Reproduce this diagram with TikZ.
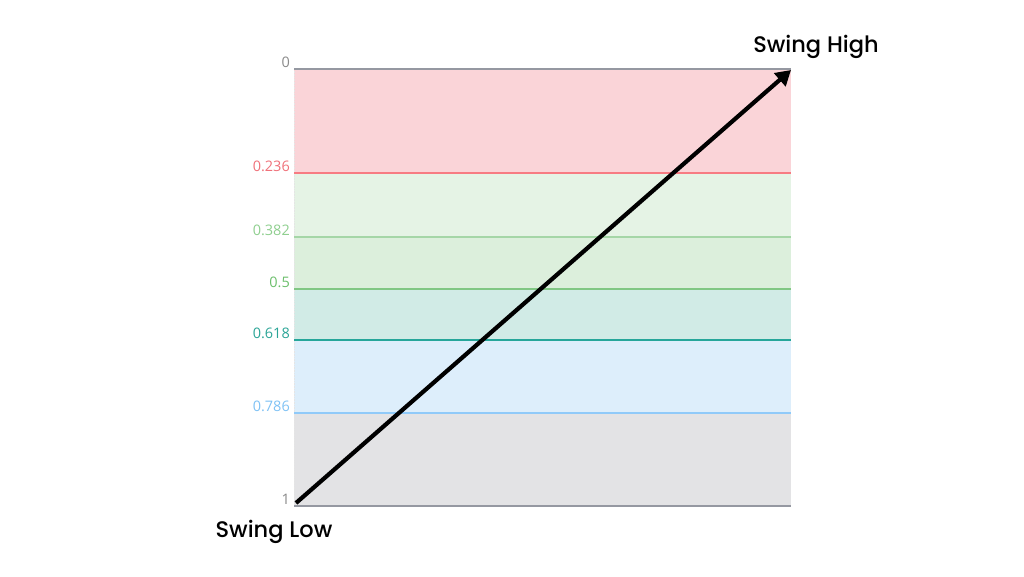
\documentclass[tikz,border=0pt]{standalone}
\usepackage{fontspec}
\setmainfont{Open Sans}
\newfontfamily\popfont{Poppins}[UprightFont=* Medium]
\usetikzlibrary{arrows.meta}
\definecolor{bandred}{HTML}{FAD4D8}
\definecolor{bandgreenA}{HTML}{E5F3E5}
\definecolor{bandgreenB}{HTML}{DCEFDC}
\definecolor{bandteal}{HTML}{D1EBE6}
\definecolor{bandblue}{HTML}{DDEEFB}
\definecolor{bandgray}{HTML}{E3E3E5}
\definecolor{lgray}{HTML}{9598A1}
\definecolor{lred}{HTML}{F77B82}
\definecolor{lgreenA}{HTML}{A5D6A7}
\definecolor{lgreenB}{HTML}{81C784}
\definecolor{lteal}{HTML}{26A69A}
\definecolor{lblue}{HTML}{90CAF9}
\definecolor{tgray}{HTML}{8A8A8A}
\definecolor{tred}{HTML}{F0717A}
\definecolor{tgreenA}{HTML}{8FCF8F}
\definecolor{tgreenB}{HTML}{6CBF6C}
\definecolor{tteal}{HTML}{2BA597}
\definecolor{tblue}{HTML}{7FC2F5}
\begin{document}
\begin{tikzpicture}[x=1pt,y=-1pt,
  lvl/.style={line width=1.2pt},
  lbl/.style={anchor=base east, inner sep=0pt, font=\fontsize{14.5}{16}\selectfont},
  swing/.style={inner sep=0pt, font=\popfont\fontsize{22.5}{26}\selectfont, text=black}]
\useasboundingbox (0,0) rectangle (1024,576);
\fill[white] (0,0) rectangle (1024,576);
% bands
\fill[bandred] (294,69) rectangle (791,173);
\fill[bandgreenA] (294,173) rectangle (791,237);
\fill[bandgreenB] (294,237) rectangle (791,289);
\fill[bandteal] (294,289) rectangle (791,340);
\fill[bandblue] (294,340) rectangle (791,413);
\fill[bandgray] (294,413) rectangle (791,506);
% left dotted edge
\draw[white!80!gray, densely dotted, line width=0.6pt] (294,69) -- (294,506);
% level lines
\draw[lvl, lgray] (294,69) -- (791,69);
\draw[lvl, lred] (294,173) -- (791,173);
\draw[lvl, lgreenA] (294,237) -- (791,237);
\draw[lvl, lgreenB] (294,289) -- (791,289);
\draw[lvl, lteal] (294,340) -- (791,340);
\draw[lvl, lblue] (294,413) -- (791,413);
\draw[lvl, lgray] (294,506) -- (791,506);
% labels
\node[lbl, text=tgray] (l0) at (290,67.5) {0};
\node[lbl, text=tred] (l236) at (290,171.5) {0.236};
\node[lbl, text=tgreenA] (l382) at (290,235.5) {0.382};
\node[lbl, text=tgreenB] (l5) at (290,287.5) {0.5};
\node[lbl, text=tteal] (l618) at (290,338.5) {0.618};
\node[lbl, text=tblue] (l786) at (290,411.5) {0.786};
\node[lbl, text=tgray] (l1) at (290,504.5) {1};
% swing arrow
\coordinate (low) at (296,503);
\coordinate (high) at (791,70);
\draw[line width=4.2pt, -{Triangle[length=15pt,width=17pt]}] (low) -- (high);
\node[swing] (sh) at (816,47) {Swing High};
\node[swing] (sl) at (274,532) {Swing Low};
\end{tikzpicture}
\end{document}
